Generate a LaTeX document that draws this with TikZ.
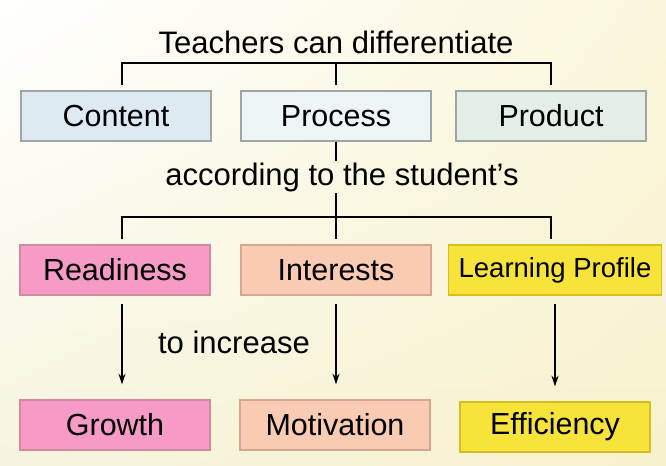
\documentclass[tikz,border=0pt]{standalone}
\usepackage{fontspec}
\setmainfont{Liberation Sans}
\usetikzlibrary{arrows.meta,shadings}

\definecolor{paper}{RGB}{247,242,205}
\definecolor{paperA}{RGB}{250,246,220}
\definecolor{paperB}{RGB}{246,244,222}
\definecolor{contentfill}{RGB}{221,234,242}
\definecolor{processfill}{RGB}{238,245,247}
\definecolor{productfill}{RGB}{226,238,230}
\definecolor{greyline}{RGB}{160,164,166}
\definecolor{readyfill}{RGB}{245,155,198}
\definecolor{readyline}{RGB}{205,140,160}
\definecolor{peachfill}{RGB}{248,203,178}
\definecolor{peachline}{RGB}{212,168,144}
\definecolor{yellowfill}{RGB}{247,227,58}
\definecolor{yellowline}{RGB}{214,190,30}

\begin{document}
\begin{tikzpicture}[x=0.03cm,y=-0.03cm,
  box/.style={draw,line width=1.2pt,minimum width=5.7cm,minimum height=1.5cm,
    inner sep=0pt,font=\fontsize{26}{30}\selectfont},
  say/.style={inner sep=1pt,font=\fontsize{26.5}{30}\selectfont},
  link/.style={line width=1.6pt},
  push/.style={line width=1.6pt,shorten <=0.25cm,shorten >=0.45cm,
    -{Stealth[length=9pt,width=6pt]}}]
\def\rowA{116} % differentiate row
\def\rowB{270} % student row
\def\rowC{425} % outcome row
\shade[upper left=white,upper right=paperA,lower left=paperB,lower right=paper]
  (0,0) rectangle (666,465);
\useasboundingbox (0,0) rectangle (666,465);

\node[say] (title) at (336,42) {Teachers can differentiate};
\node[box,fill=contentfill,draw=greyline] (content) at (116,\rowA) {Content};
\node[box,fill=processfill,draw=greyline] (process) at (336,\rowA) {Process};
\node[box,fill=productfill,draw=greyline] (product) at (551,\rowA) {Product};
\node[say] (student) at (342,177) {according to the student's};
\node[box,fill=readyfill,draw=readyline] (readiness) at (115,\rowB) {Readiness};
\node[box,fill=peachfill,draw=peachline] (interests) at (336,\rowB) {Interests};
\node[box,fill=yellowfill,draw=yellowline,minimum width=6.4cm,
  font=\fontsize{23.5}{28}\selectfont] (profile) at (555,\rowB) {Learning Profile};
\node[say] (increase) at (234,342) {to increase};
\node[box,fill=readyfill,draw=readyline] (growth) at (115,\rowC) {Growth};
\node[box,fill=peachfill,draw=peachline] (motivation) at (335,\rowC) {Motivation};
\node[box,fill=yellowfill,draw=yellowline] (efficiency) at (555,427) {Efficiency};

% upper bracket
\coordinate (tick A) at (122,85);
\coordinate (tick B) at (336,85);
\coordinate (tick C) at (551,85);
\draw[link] (tick A) -- ++(0,-22) -| (tick C);
\draw[link] (tick B) -- ++(0,-22);
\draw[link] (process.south) -- (process.south |- student.north);

% lower bracket
\coordinate (fork A) at (122,239);
\coordinate (fork B) at (336,239);
\coordinate (fork C) at (551,239);
\draw[link] (fork A) -- ++(0,-22) -| (fork C);
\draw[link] (fork B |- student.south) -- (fork B);

% arrows
\draw[push] (readiness.south -| fork A) -- (growth.north -| fork A);
\draw[push] (interests.south -| fork B) -- (motivation.north -| fork B);
\draw[push] (profile.south) -- (efficiency.north);
\end{tikzpicture}
\end{document}
